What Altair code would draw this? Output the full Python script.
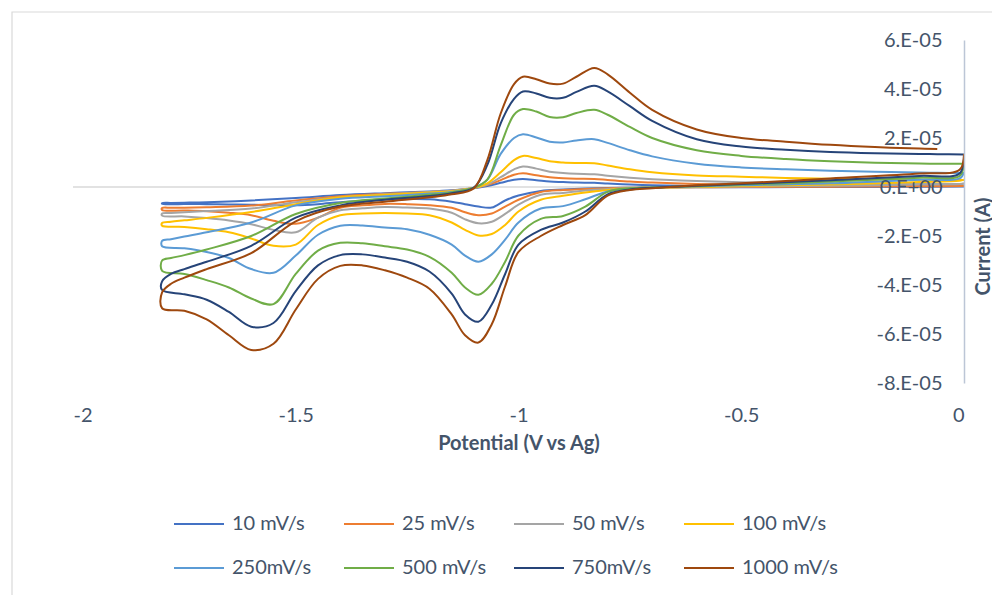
import altair as alt
import pandas as pd

# ---------------- data (current in units of 1e-5 A) ----------------
series_names = ["10 mV/s", "25 mV/s", "50 mV/s", "100 mV/s",
                "250mV/s", "500 mV/s", "750mV/s", "1000 mV/s"]
series_colors = ["#4472C4", "#ED7D31", "#A5A5A5", "#FFC000",
                 "#5B9BD5", "#70AD47", "#264478", "#9E480E"]

# forward (cathodic) sweep 0 -> -1.8 V
fwd_potential = [0, -0.01, -0.1, -0.3, -0.5, -0.6, -0.7, -0.75, -0.8, -0.85,
                 -0.9, -0.95, -1.0, -1.03, -1.06, -1.09, -1.12, -1.15, -1.2, -1.25,
                 -1.3, -1.35, -1.4, -1.45, -1.5, -1.55, -1.6, -1.65, -1.7, -1.75, -1.8]
# reverse (anodic) sweep -1.8 -> 0 V
rev_potential = [-1.8, -1.78, -1.75, -1.7, -1.6, -1.5, -1.4, -1.3, -1.2, -1.15,
                 -1.1, -1.07, -1.04, -1.01, -0.99, -0.96, -0.93, -0.9, -0.87, -0.83,
                 -0.8, -0.75, -0.7, -0.6, -0.5, -0.4, -0.3, -0.2, -0.1, -0.06, 0]

i10_fwd = [0.02, 0.02, 0.01, 0.0, -0.01, -0.01, -0.02, -0.03, -0.04, -0.06,
           -0.1, -0.16, -0.35, -0.55, -0.84, -0.8, -0.7, -0.6, -0.5, -0.49,
           -0.5, -0.56, -0.62, -0.7, -0.75, -0.74, -0.72, -0.71, -0.7, -0.69, -0.69]
i10_rev = [-0.66, -0.65, -0.64, -0.62, -0.55, -0.45, -0.33, -0.25, -0.18, -0.13,
           -0.05, 0.04, 0.17, 0.3, 0.33, 0.28, 0.22, 0.2, 0.18, 0.17,
           0.14, 0.1, 0.07, 0.04, 0.03, 0.02, 0.02, 0.02, 0.02, 0.02, 0.02]

i25_fwd = [0.05, 0.04, 0.03, 0.01, 0.0, -0.01, -0.02, -0.03, -0.05, -0.08,
           -0.12, -0.2, -0.52, -0.8, -1.08, -1.15, -1.03, -0.85, -0.74, -0.7,
           -0.69, -0.75, -0.85, -1.25, -1.5, -1.38, -1.15, -1.05, -0.99, -0.96, -0.94]
i25_rev = [-0.86, -0.85, -0.85, -0.83, -0.76, -0.55, -0.38, -0.28, -0.2, -0.15,
           -0.04, 0.08, 0.28, 0.5, 0.56, 0.48, 0.4, 0.36, 0.34, 0.33,
           0.29, 0.22, 0.18, 0.12, 0.09, 0.07, 0.06, 0.05, 0.05, 0.05, 0.05]

i50_fwd = [0.15, 0.12, 0.1, 0.05, 0.02, 0.0, -0.02, -0.04, -0.08, -0.14,
           -0.24, -0.32, -0.72, -1.1, -1.42, -1.48, -1.32, -1.05, -0.88, -0.84,
           -0.82, -0.87, -0.95, -1.25, -1.85, -1.75, -1.52, -1.37, -1.27, -1.2, -1.17]
i50_rev = [-1.08, -1.06, -1.03, -0.98, -0.88, -0.62, -0.42, -0.3, -0.2, -0.15,
           -0.03, 0.1, 0.4, 0.72, 0.84, 0.75, 0.62, 0.57, 0.54, 0.52,
           0.46, 0.38, 0.32, 0.24, 0.19, 0.16, 0.14, 0.13, 0.12, 0.12, 0.12]

i100_fwd = [0.3, 0.25, 0.2, 0.1, 0.04, 0.0, -0.03, -0.05, -0.12, -0.22,
            -0.36, -0.52, -1.0, -1.55, -1.92, -1.98, -1.75, -1.45, -1.15, -1.08,
            -1.06, -1.08, -1.15, -1.55, -2.35, -2.4, -2.1, -1.85, -1.72, -1.63, -1.58]
i100_rev = [-1.47, -1.42, -1.36, -1.26, -1.02, -0.7, -0.42, -0.32, -0.22, -0.17,
            -0.03, 0.15, 0.6, 1.1, 1.27, 1.18, 1.05, 1.0, 0.98, 0.97,
            0.88, 0.72, 0.6, 0.47, 0.42, 0.37, 0.34, 0.31, 0.3, 0.29, 0.29]

i250_fwd = [0.6, 0.35, 0.3, 0.15, 0.07, 0.02, -0.02, -0.05, -0.18, -0.5,
            -0.78, -0.88, -1.45, -2.15, -2.75, -3.05, -2.8, -2.35, -1.95, -1.72,
            -1.65, -1.57, -1.58, -1.95, -2.8, -3.5, -3.35, -2.9, -2.65, -2.5, -2.42]
i250_rev = [-2.2, -2.13, -2.02, -1.85, -1.45, -0.75, -0.48, -0.38, -0.27, -0.2,
            -0.03, 0.3, 1.35, 2.0, 2.15, 2.02, 1.85, 1.82, 1.9, 1.95,
            1.8, 1.5, 1.25, 0.95, 0.8, 0.72, 0.66, 0.62, 0.59, 0.58, 0.57]

i500_fwd = [0.95, 0.45, 0.38, 0.22, 0.1, 0.04, -0.02, -0.05, -0.2, -0.8,
            -1.18, -1.3, -1.98, -3.05, -3.95, -4.4, -4.1, -3.5, -2.85, -2.55,
            -2.42, -2.3, -2.28, -2.6, -3.55, -4.78, -4.55, -4.1, -3.8, -3.55, -3.42]
i500_rev = [-3.0, -2.9, -2.78, -2.55, -2.0, -1.1, -0.65, -0.47, -0.32, -0.22,
            -0.03, 0.3, 1.7, 2.95, 3.18, 3.08, 2.86, 2.85, 3.02, 3.15,
            2.95, 2.45, 2.0, 1.5, 1.27, 1.14, 1.05, 0.99, 0.96, 0.95, 0.95]

i750_fwd = [1.3, 0.55, 0.45, 0.28, 0.12, 0.05, -0.03, -0.1, -0.3, -1.0,
            -1.45, -1.75, -2.35, -3.55, -4.8, -5.5, -5.2, -4.35, -3.45, -3.05,
            -2.88, -2.75, -2.78, -3.2, -4.25, -5.55, -5.7, -5.1, -4.6, -4.38, -4.2]
i750_rev = [-3.85, -3.55, -3.35, -3.05, -2.4, -1.25, -0.75, -0.52, -0.37, -0.25,
            -0.02, 0.9, 2.6, 3.6, 3.9, 3.82, 3.64, 3.64, 3.88, 4.13,
            3.9, 3.3, 2.7, 1.95, 1.65, 1.52, 1.43, 1.38, 1.35, 1.34, 1.33]

i1000_fwd = [1.35, 0.7, 0.55, 0.35, 0.15, 0.07, -0.05, -0.12, -0.35, -1.15,
             -1.55, -2.0, -2.65, -4.05, -5.6, -6.35, -6.05, -5.2, -4.15, -3.7,
             -3.4, -3.2, -3.22, -3.75, -5.0, -6.4, -6.65, -6.05, -5.4, -5.05, -4.95]
i1000_rev = [-4.3, -3.95, -3.7, -3.35, -2.7, -1.4, -0.8, -0.6, -0.42, -0.3,
             -0.05, 1.1, 3.0, 4.2, 4.5, 4.4, 4.22, 4.22, 4.5, 4.86,
             4.6, 3.85, 3.15, 2.35, 2.0, 1.85, 1.72, 1.63, 1.57, 1.55, None]

fwd_sets = [i10_fwd, i25_fwd, i50_fwd, i100_fwd, i250_fwd, i500_fwd, i750_fwd, i1000_fwd]
rev_sets = [i10_rev, i25_rev, i50_rev, i100_rev, i250_rev, i500_rev, i750_rev, i1000_rev]

y_ticks = [-8e-5, -6e-5, -4e-5, -2e-5, 0, 2e-5, 4e-5, 6e-5]
x_ticks = [-2, -1.5, -1, -0.5, 0]

rows = []
for name, fwd, rev in zip(series_names, fwd_sets, rev_sets):
    k = 0
    for v, i in zip(fwd_potential + rev_potential, fwd + rev):
        if i is None:
            continue
        rows.append({"series": name, "V": v, "I": i * 1e-5, "k": k})
        k += 1
df = pd.DataFrame(rows)

FONT = "Lato"
TXT = "#44546A"

y_axis = alt.Axis(
    orient="right", values=y_ticks, grid=False, ticks=False,
    domain=True, domainColor="#BCC6D6", domainWidth=1.5,
    labelAlign="right", labelPadding=-22, labelFont=FONT, labelFontSize=20,
    labelColor=TXT,
    labelExpr="datum.value == 0 ? '0.E+00' : (round(datum.value * 1e5) + '.E-05')",
    title="Current (A)", titleFont=FONT, titleFontSize=20, titleFontWeight="bold",
    titleColor=TXT, titleAngle=270, titleX=19, titleY=206,
    titleAlign="center", titleBaseline="middle", zindex=1,
)
x_axis = alt.Axis(
    values=x_ticks, grid=False, ticks=False, domain=False,
    labelPadding=22, labelFont=FONT, labelFontSize=20, labelColor=TXT,
    labelExpr="'' + datum.value",
    title="Potential (V vs Ag)", titleFont=FONT, titleFontSize=20,
    titleFontWeight="bold", titleColor=TXT, titleX=445.5, titleY=50,
    titleAlign="center", titleBaseline="top",
)
y_scale = alt.Scale(domain=[-8e-5, 6e-5], nice=False, zero=False)
x_scale = alt.Scale(domain=[-2, 0], nice=False, zero=False)

border = alt.Chart(pd.DataFrame({"a": [0]})).mark_rect(
    fillOpacity=0, stroke="#D9D9D9", strokeWidth=1.2
).encode(x=alt.value(-61), y=alt.value(-28), x2=alt.value(960), y2=alt.value(600))

zero_line = alt.Chart(pd.DataFrame({"y": [0]})).mark_rule(
    color="#D9D9D9", strokeWidth=1.5
).encode(y=alt.Y("y:Q", scale=y_scale, axis=y_axis))

lines = alt.Chart(df).mark_line(strokeWidth=2, interpolate="catmull-rom").encode(
    x=alt.X("V:Q", scale=x_scale, axis=x_axis),
    y=alt.Y("I:Q", scale=y_scale, axis=y_axis),
    color=alt.Color(
        "series:N",
        scale=alt.Scale(domain=series_names, range=series_colors),
        legend=alt.Legend(
            title=None, orient="none", legendX=100, legendY=458,
            direction="horizontal", columns=4, gridAlign="all",
            columnPadding=12, rowPadding=8, padding=0,
            symbolType="stroke", symbolSize=2500, symbolStrokeWidth=2,
            labelOffset=7, labelFont=FONT, labelFontSize=20, labelColor=TXT,
            labelLimit=0,
        ),
    ),
    order=alt.Order("k:Q"),
)

chart = alt.layer(border, zero_line, lines).properties(
    width=891, height=343,
    autosize=alt.AutoSizeParams(type="none"),
    padding={"left": 73, "top": 40, "right": 28, "bottom": 212},
).configure(background="white").configure_view(stroke=None)

chart.save("out.html", embed_options={"renderer": "svg", "actions": False})
